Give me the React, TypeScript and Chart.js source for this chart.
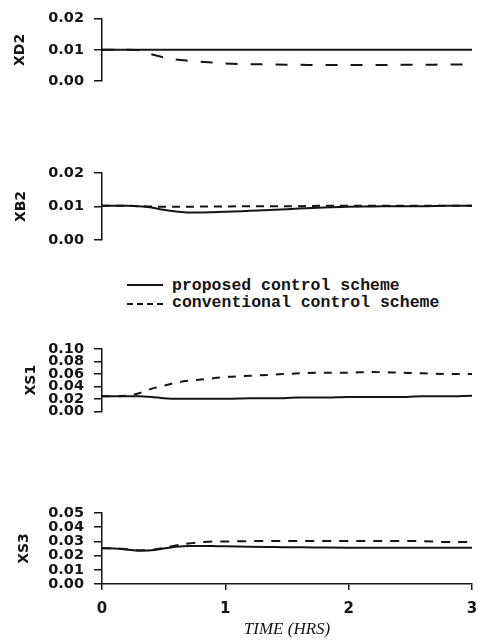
import React, { useEffect, useRef } from "react";
import { Chart, registerables } from "chart.js";

Chart.register(...registerables);

// ---- data ----
const TIME = [0, 0.1, 0.2, 0.3, 0.4, 0.5, 0.6, 0.7, 0.8, 0.9, 1.0, 1.2, 1.4, 1.6, 1.8, 2.0, 2.2, 2.4, 2.6, 2.8, 3.0];
const TIME_TICKS = [0, 1, 2, 3];

const XD2_PROPOSED = [0.01, 0.01, 0.01, 0.01, 0.01, 0.01, 0.01, 0.01, 0.01, 0.01, 0.01, 0.01, 0.01, 0.01, 0.01, 0.01, 0.01, 0.01, 0.01, 0.01, 0.01];
const XD2_CONVENTIONAL = [0.01, 0.01, 0.01, 0.0099, 0.0086, 0.0076, 0.0069, 0.0065, 0.0062, 0.0059, 0.0056, 0.0054, 0.0053, 0.0052, 0.0051, 0.0051, 0.0051, 0.0052, 0.0052, 0.0053, 0.0053];

const XB2_PROPOSED = [0.0102, 0.0102, 0.0102, 0.0101, 0.0097, 0.009, 0.0085, 0.0082, 0.0082, 0.0083, 0.0084, 0.0087, 0.009, 0.0094, 0.0097, 0.0099, 0.01, 0.0101, 0.0101, 0.0102, 0.0102];
const XB2_CONVENTIONAL = [0.0102, 0.0102, 0.0102, 0.0101, 0.01, 0.0099, 0.0099, 0.0099, 0.01, 0.01, 0.01, 0.0101, 0.0101, 0.0101, 0.0102, 0.0102, 0.0102, 0.0102, 0.0102, 0.0102, 0.0102];

const XS1_PROPOSED = [0.024, 0.024, 0.024, 0.024, 0.023, 0.021, 0.02, 0.02, 0.02, 0.02, 0.02, 0.021, 0.021, 0.022, 0.022, 0.023, 0.023, 0.023, 0.024, 0.024, 0.025];
const XS1_CONVENTIONAL = [0.024, 0.024, 0.025, 0.029, 0.036, 0.041, 0.046, 0.049, 0.051, 0.053, 0.055, 0.057, 0.059, 0.061, 0.062, 0.062, 0.063, 0.062, 0.061, 0.06, 0.06];

const XS3_PROPOSED = [0.0252, 0.025, 0.0243, 0.0235, 0.0237, 0.025, 0.0262, 0.0268, 0.0268, 0.0267, 0.0266, 0.0262, 0.026, 0.0258, 0.0257, 0.0256, 0.0255, 0.0255, 0.0255, 0.0255, 0.0255];
const XS3_CONVENTIONAL = [0.0252, 0.0252, 0.0245, 0.0237, 0.024, 0.0255, 0.0272, 0.0285, 0.0295, 0.03, 0.03, 0.0302, 0.0302, 0.0302, 0.0302, 0.0303, 0.0303, 0.0302, 0.0302, 0.0295, 0.0295];

const XD2_TICKS = [0, 0.01, 0.02];
const XB2_TICKS = [0, 0.01, 0.02];
const XS1_TICKS = [0, 0.02, 0.04, 0.06, 0.08, 0.1];
const XS3_TICKS = [0, 0.01, 0.02, 0.03, 0.04, 0.05];

const LEGEND_LABELS = ["proposed control scheme", "conventional control scheme"];

const INK = "#141414";
const TICK_FONT = { family: "DejaVu Sans", size: 14.5, weight: "bold" as const };

type PanelProps = {
  top: number;
  height: number;
  padTop: number;
  padBottom: number;
  title: string;
  titlePad: number;
  ticks: number[];
  proposed: number[];
  conventional: number[];
  dash: number[];
  showX?: boolean;
  xHeight?: number;
};

function Panel(p: PanelProps) {
  const ref = useRef<HTMLCanvasElement>(null);
  useEffect(() => {
    const canvas = ref.current;
    if (!canvas) return;
    const toPts = (vals: number[]) => TIME.map((t, i) => ({ x: t, y: vals[i] }));
    const yMax = p.ticks[p.ticks.length - 1];
    const yStep = p.ticks[1] - p.ticks[0];
    const chart = new Chart(canvas, {
      type: "line",
      data: {
        datasets: [
          {
            label: LEGEND_LABELS[0],
            data: toPts(p.proposed),
            borderColor: INK,
            borderWidth: 2,
            pointRadius: 0,
            cubicInterpolationMode: "monotone",
            fill: false,
          },
          {
            label: LEGEND_LABELS[1],
            data: toPts(p.conventional),
            borderColor: INK,
            borderWidth: 2,
            borderDash: p.dash,
            pointRadius: 0,
            cubicInterpolationMode: "monotone",
            fill: false,
          },
        ],
      },
      options: {
        animation: false,
        responsive: false,
        events: [],
        layout: { padding: { left: 0, right: 6, top: p.padTop, bottom: p.padBottom } },
        plugins: { legend: { display: false }, tooltip: { enabled: false } },
        scales: {
          x: {
            type: "linear",
            min: TIME_TICKS[0],
            max: TIME_TICKS[TIME_TICKS.length - 1],
            display: !!p.showX,
            afterFit: (s: any) => {
              if (p.xHeight) s.height = p.xHeight;
              s.paddingLeft = 0;
              s.paddingRight = 0;
            },
            afterBuildTicks: (s: any) => {
              s.ticks = TIME_TICKS.map((v) => ({ value: v }));
            },
            ticks: {
              stepSize: 1,
              color: INK,
              font: { family: "DejaVu Sans", size: 15, weight: "bold" },
              padding: 10,
              maxRotation: 0,
            },
            grid: { drawOnChartArea: false, tickLength: 6, color: INK, lineWidth: 1.5 },
            border: { display: true, color: INK, width: 1.5 },
            title: {
              display: true,
              text: "TIME (HRS)",
              color: INK,
              font: { family: "Liberation Serif", size: 17, style: "italic" },
              padding: { top: 0, bottom: 3 },
            },
          },
          y: {
            type: "linear",
            min: p.ticks[0],
            max: yMax,
            afterFit: (s: any) => {
              s.width = 102;
            },
            afterBuildTicks: (s: any) => {
              s.ticks = p.ticks.map((v) => ({ value: v }));
            },
            ticks: {
              stepSize: yStep,
              autoSkip: false,
              color: INK,
              font: TICK_FONT,
              padding: 10,
              callback: (v: any) => Number(v).toFixed(2),
            },
            grid: { drawOnChartArea: false, tickLength: 8, color: INK, lineWidth: 1.5 },
            border: { display: true, color: INK, width: 1.5 },
            title: {
              display: true,
              text: p.title,
              color: INK,
              font: { family: "DejaVu Sans", size: 14, weight: "bold" },
              padding: { top: p.titlePad, bottom: 0 },
            },
          },
        },
      },
    } as any);
    return () => chart.destroy();
  }, []);
  return (
    <canvas
      ref={ref}
      width={478}
      height={p.height}
      style={{ position: "absolute", left: 0, top: p.top, width: 478, height: p.height, display: "block" }}
    />
  );
}

function Legend() {
  const font = 'bold 16.5px "Liberation Mono", "Courier New", monospace';
  const row = (i: number, top: number, lineTop: number, dashed: boolean) => (
    <React.Fragment key={i}>
      <div
        style={{
          position: "absolute",
          left: 127,
          top: lineTop,
          width: 36,
          height: 0,
          borderTop: `2px ${dashed ? "dashed" : "solid"} ${INK}`,
        }}
      />
      <div
        style={{
          position: "absolute",
          left: 172,
          top,
          font,
          lineHeight: "16px",
          color: INK,
          whiteSpace: "nowrap",
        }}
      >
        {LEGEND_LABELS[i]}
      </div>
    </React.Fragment>
  );
  return (
    <>
      {row(0, 278, 284, false)}
      {row(1, 295, 303, true)}
    </>
  );
}

export default function App() {
  return (
    <div style={{ position: "absolute", left: 0, top: 0, width: 478, height: 643, background: "#fff", overflow: "hidden" }}>
      <Panel top={0} height={100} padTop={13} padBottom={19} title="XD2" titlePad={12} ticks={XD2_TICKS}
        proposed={XD2_PROPOSED} conventional={XD2_CONVENTIONAL} dash={[12, 13]} />
      <Panel top={150} height={110} padTop={23} padBottom={20} title="XB2" titlePad={13} ticks={XB2_TICKS}
        proposed={XB2_PROPOSED} conventional={XB2_CONVENTIONAL} dash={[8, 6]} />
      <Legend />
      <Panel top={330} height={100} padTop={19} padBottom={13} title="XS1" titlePad={23} ticks={XS1_TICKS}
        proposed={XS1_PROPOSED} conventional={XS1_CONVENTIONAL} dash={[8, 8]} />
      <Panel top={490} height={153} padTop={23} padBottom={0} title="XS3" titlePad={16} ticks={XS3_TICKS}
        proposed={XS3_PROPOSED} conventional={XS3_CONVENTIONAL} dash={[9, 8]} showX xHeight={59} />
    </div>
  );
}
